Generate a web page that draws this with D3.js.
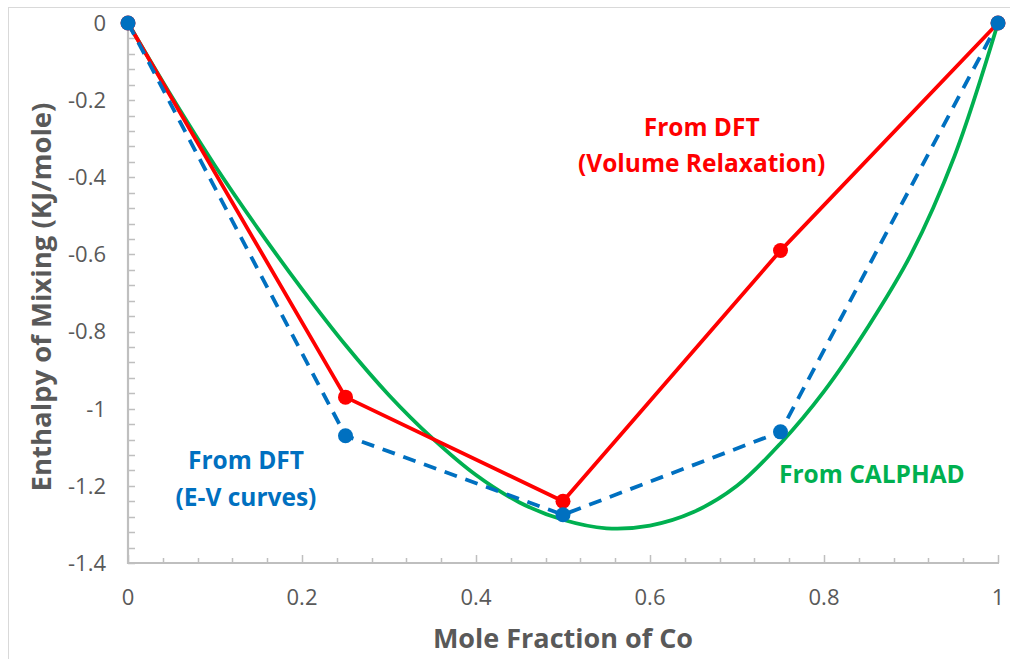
<!DOCTYPE html>
<html>
<head>
<meta charset="utf-8">
<script src="https://cdn.jsdelivr.net/npm/d3@7"></script>
<style>
  html, body { margin: 0; padding: 0; background: #ffffff; }
  svg { display: block; }
  text { font-family: "Open Sans", "Noto Sans", sans-serif; }
</style>
</head>
<body>
<svg id="chart" width="1010" height="659"></svg>
<script>
// Mole fraction of Co
const moleFraction = [0, 0.25, 0.5, 0.75, 1];
// Enthalpy of mixing, DFT with volume relaxation (kJ/mole)
const dftVolumeRelaxation = [0, -0.97, -1.24, -0.59, 0];
// Enthalpy of mixing, DFT from E-V curves (kJ/mole)
const dftEVCurves = [0, -1.07, -1.275, -1.06, 0];
// CALPHAD assessment, sampled along composition
const calphadX = [0, 0.05, 0.10, 0.15, 0.20, 0.25, 0.30, 0.35, 0.40, 0.45, 0.50,
                  0.55, 0.60, 0.65, 0.70, 0.75, 0.80, 0.85, 0.90, 0.95, 1.0];
const calphadH = [0, -0.19, -0.37, -0.535, -0.69, -0.835, -0.965, -1.077, -1.172, -1.243, -1.288,
                  -1.31, -1.303, -1.268, -1.20, -1.09, -0.955, -0.79, -0.60, -0.345, 0];

const xTicks = [0, 0.2, 0.4, 0.6, 0.8, 1];
const xTickLabels = ["0", "0.2", "0.4", "0.6", "0.8", "1"];
const yTicks = [0, -0.2, -0.4, -0.6, -0.8, -1, -1.2, -1.4];
const yTickLabels = ["0", "-0.2", "-0.4", "-0.6", "-0.8", "-1", "-1.2", "-1.4"];

const annotations = [
  { lines: ["From DFT", "(Volume Relaxation)"], x: 0.6594, y: [-0.293, -0.386], color: "#ff0000" },
  { lines: ["From DFT", "(E-V curves)"], x: 0.1356, y: [-1.156, -1.252], color: "#0070c0" },
  { lines: ["From CALPHAD"], x: 0.855, y: [-1.193], color: "#00b050" }
];

const svg = d3.select("#chart");
const plot = { left: 128, right: 998, top: 23, bottom: 563 };

const x = d3.scaleLinear().domain([0, 1]).range([plot.left, plot.right]);
const y = d3.scaleLinear().domain([0, -1.4]).range([plot.top, plot.bottom]);

const axisColor = "#bfbfbf";
const textColor = "#595959";

// chart area frame
svg.append("rect")
  .attr("x", 8.5).attr("y", 7.5)
  .attr("width", 1020).attr("height", 670)
  .attr("fill", "none").attr("stroke", "#d9d9d9").attr("stroke-width", 1);

// minor tick positions every 0.04
const xMinor = d3.range(0, 1.0001, 0.04);
const yMinor = d3.range(0, -1.4001, -0.04);

const axes = svg.append("g");
// y axis ticks (inside)
axes.selectAll(".ytick").data(yMinor).join("line")
  .attr("x1", plot.left).attr("x2", plot.left + 7)
  .attr("y1", d => Math.round(y(d)) + 0.5).attr("y2", d => Math.round(y(d)) + 0.5)
  .attr("stroke", axisColor).attr("stroke-width", 1.5);
// x axis ticks (inside)
axes.selectAll(".xtick").data(xMinor).join("line")
  .attr("x1", d => Math.round(x(d)) + 0.5).attr("x2", d => Math.round(x(d)) + 0.5)
  .attr("y1", plot.bottom)
  .attr("y2", d => {
    const major = Math.abs(d * 5 - Math.round(d * 5)) < 1e-6;
    return plot.bottom - (major ? 8 : 5);
  })
  .attr("stroke", axisColor).attr("stroke-width", 1.5);
// axis lines
axes.append("line")
  .attr("x1", plot.left).attr("x2", plot.left)
  .attr("y1", plot.top).attr("y2", plot.bottom + 1)
  .attr("stroke", axisColor).attr("stroke-width", 2.2);
axes.append("line")
  .attr("x1", plot.left - 1).attr("x2", plot.right + 1)
  .attr("y1", plot.bottom).attr("y2", plot.bottom)
  .attr("stroke", axisColor).attr("stroke-width", 2.2);

// tick labels
svg.append("g").selectAll("text").data(yTicks).join("text")
  .attr("x", 106).attr("y", d => y(d))
  .attr("dy", "0.36em")
  .attr("text-anchor", "end")
  .attr("font-size", 22).attr("fill", textColor)
  .text((d, i) => yTickLabels[i]);
svg.append("g").selectAll("text").data(xTicks).join("text")
  .attr("x", d => x(d)).attr("y", 605)
  .attr("text-anchor", "middle")
  .attr("font-size", 22).attr("fill", textColor)
  .text((d, i) => xTickLabels[i]);

// axis titles
svg.append("text")
  .attr("x", 563).attr("y", 648)
  .attr("text-anchor", "middle")
  .attr("font-size", 27).attr("font-weight", "bold").attr("fill", textColor)
  .text("Mole Fraction of Co");
svg.append("text")
  .attr("transform", "translate(51,297) rotate(-90)")
  .attr("text-anchor", "middle")
  .attr("font-size", 27.5).attr("font-weight", "bold").attr("fill", textColor)
  .text("Enthalpy of Mixing (KJ/mole)");

// series
const line = d3.line().x(d => x(d[0])).y(d => y(d[1]));
const smooth = d3.line().x(d => x(d[0])).y(d => y(d[1])).curve(d3.curveCatmullRom.alpha(0.5));

const series = svg.append("g");
series.append("path")
  .datum(calphadX.map((v, i) => [v, calphadH[i]]))
  .attr("d", smooth)
  .attr("fill", "none").attr("stroke", "#00b050").attr("stroke-width", 3.8);

const red = moleFraction.map((v, i) => [v, dftVolumeRelaxation[i]]);
series.append("path").datum(red).attr("d", line)
  .attr("fill", "none").attr("stroke", "#ff0000").attr("stroke-width", 3.8)
  .attr("stroke-linejoin", "round");
series.selectAll(".rdot").data(red).join("circle")
  .attr("cx", d => x(d[0])).attr("cy", d => y(d[1])).attr("r", 7.5)
  .attr("fill", "#ff0000");

const blue = moleFraction.map((v, i) => [v, dftEVCurves[i]]);
series.append("path").datum(blue).attr("d", line)
  .attr("fill", "none").attr("stroke", "#0070c0").attr("stroke-width", 3.8)
  .attr("stroke-dasharray", "13,9");
series.selectAll(".bdot").data(blue).join("circle")
  .attr("cx", d => x(d[0])).attr("cy", d => y(d[1])).attr("r", 7.5)
  .attr("fill", "#0070c0");

// series labels
const notes = svg.append("g");
annotations.forEach(a => {
  a.lines.forEach((t, i) => {
    notes.append("text")
      .attr("x", x(a.x)).attr("y", y(a.y[i]))
      .attr("text-anchor", "middle")
      .attr("font-size", 24.5).attr("font-weight", "bold").attr("fill", a.color)
      .text(t);
  });
});
</script>
</body>
</html>
